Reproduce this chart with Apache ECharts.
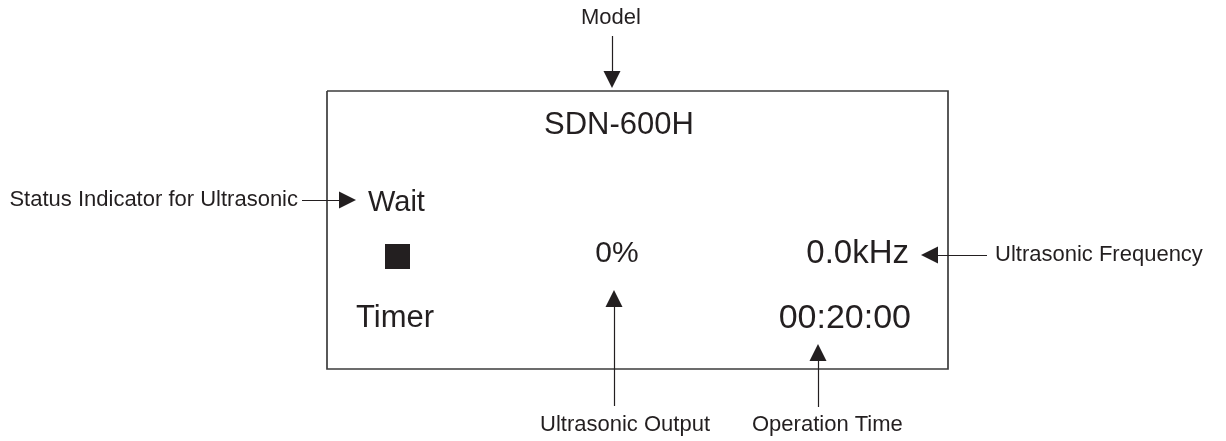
<!DOCTYPE html>
<html>
<head>
<meta charset="utf-8">
<script src="https://cdn.jsdelivr.net/npm/echarts@6/dist/echarts.min.js"></script>
<style>
html,body{margin:0;padding:0;background:#fff;}
#chart{width:1226px;height:441px;}
</style>
</head>
<body>
<div id="chart"></div>
<script>
// ---- content ----
const displayTexts = ['SDN-600H', 'Wait', '0%', '0.0kHz', 'Timer', '00:20:00'];
const calloutLabels = ['Model', 'Status Indicator for Ultrasonic', 'Ultrasonic Frequency', 'Ultrasonic Output', 'Operation Time'];

// ---- layout (diagram coordinates, px) ----
const displayAnchors = [[619, 125], [368, 203], [617, 254], [909, 254], [356, 318], [911, 319]];
const displayAligns = ['center', 'left', 'center', 'right', 'left', 'right'];
const displaySizes = [31, 29, 30, 33, 31, 34];
const calloutAnchors = [[611, 18], [298, 200], [995, 255], [710, 425], [752, 425]];
const calloutAligns = ['center', 'right', 'left', 'right', 'left'];
// arrow tail -> tip
const arrowPaths = [
  [[612, 36], [612, 88]],
  [[302, 200], [356, 200]],
  [[987, 255], [921, 255]],
  [[614, 406], [614, 290]],
  [[818, 407], [818, 344]]
];
const screenBox = [[327, 91], [948, 369]];
const stopIcon = [397.5, 256.5];

const INK = '#231f20';
const ARROW_LEN = 17;

function shorten(path) {
  const [a, b] = path;
  const dx = b[0] - a[0], dy = b[1] - a[1];
  const L = Math.hypot(dx, dy);
  const k = (L - ARROW_LEN / 2) / L;
  return [a, [a[0] + dx * k, a[1] + dy * k]];
}

const boxCoords = [
  [screenBox[0][0], screenBox[0][1]],
  [screenBox[1][0], screenBox[0][1]],
  [screenBox[1][0], screenBox[1][1]],
  [screenBox[0][0], screenBox[1][1]],
  [screenBox[0][0], screenBox[0][1]]
];

const chart = echarts.init(document.getElementById('chart'), null, { renderer: 'canvas' });
chart.setOption({
  backgroundColor: '#ffffff',
  animation: false,
  grid: { left: 0, right: 0, top: 0, bottom: 0 },
  xAxis: { type: 'value', min: 0, max: 1226, show: false },
  yAxis: { type: 'value', min: 0, max: 441, inverse: true, show: false },
  series: [
    {
      type: 'lines',
      coordinateSystem: 'cartesian2d',
      polyline: true,
      symbol: 'none',
      silent: true,
      lineStyle: { color: '#3c3c3c', width: 1.7, opacity: 1 },
      data: [{ coords: boxCoords }]
    },
    {
      type: 'lines',
      coordinateSystem: 'cartesian2d',
      symbol: ['none', 'triangle'],
      symbolSize: [14, ARROW_LEN],
      silent: true,
      lineStyle: { color: INK, width: 1.2, opacity: 1 },
      itemStyle: { color: INK, opacity: 1 },
      data: arrowPaths.map(p => ({ coords: shorten(p) }))
    },
    {
      type: 'scatter',
      silent: true,
      symbol: 'rect',
      symbolSize: 25,
      itemStyle: { color: INK, opacity: 1 },
      data: [stopIcon]
    },
    {
      type: 'scatter',
      silent: true,
      symbolSize: 0,
      itemStyle: { opacity: 1 },
      data: displayTexts.map((t, i) => ({
        name: t,
        value: displayAnchors[i],
        label: {
          show: true,
          formatter: t,
          position: [0, 0],
          align: displayAligns[i],
          verticalAlign: 'middle',
          fontFamily: 'Liberation Sans, Arial, sans-serif',
          fontSize: displaySizes[i],
          color: INK
        }
      }))
    },
    {
      type: 'scatter',
      silent: true,
      symbolSize: 0,
      itemStyle: { opacity: 1 },
      data: calloutLabels.map((t, i) => ({
        name: t,
        value: calloutAnchors[i],
        label: {
          show: true,
          formatter: t,
          position: [0, 0],
          align: calloutAligns[i],
          verticalAlign: 'middle',
          fontFamily: 'Liberation Sans, Arial, sans-serif',
          fontSize: 22,
          color: INK
        }
      }))
    }
  ]
});
</script>
</body>
</html>
